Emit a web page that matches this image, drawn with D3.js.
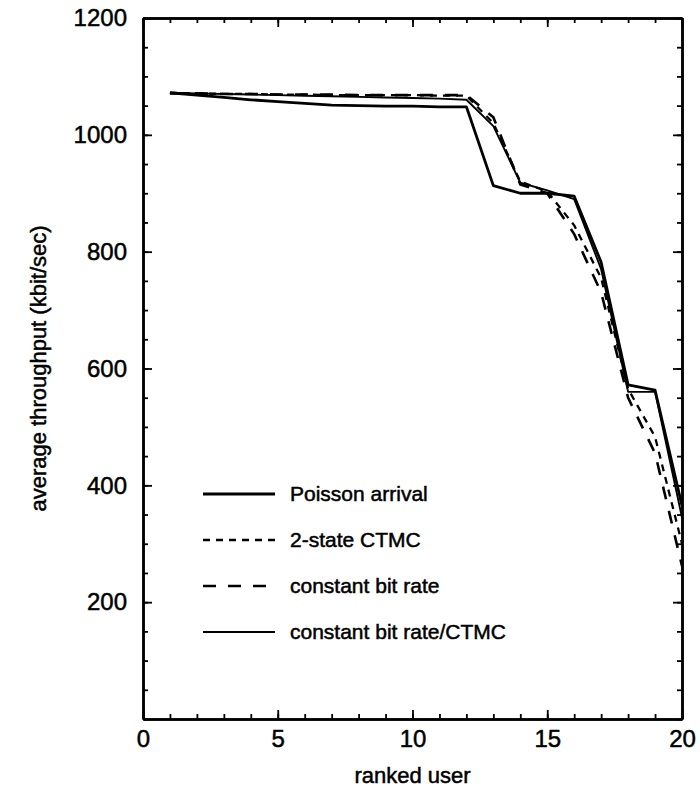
<!DOCTYPE html>
<html>
<head>
<meta charset="utf-8">
<script src="https://cdn.jsdelivr.net/npm/d3@7"></script>
<style>
  body { margin: 0; background: #fff; }
  text { font-family: "Liberation Sans", Arial, sans-serif; fill: #000; stroke: #000; stroke-width: 0.5px; }
</style>
</head>
<body>
<svg id="chart" width="700" height="796"></svg>
<script>
// ranked users 1..20
var users = d3.range(1, 21);

// average throughput (kbit/sec)
var poisson    = [1072, 1068, 1064, 1060, 1057, 1054, 1051, 1050, 1049, 1049, 1048, 1048, 913, 900, 900, 895, 782, 572, 563, 365];
var ctmc2      = [1072, 1071, 1070, 1070, 1069, 1069, 1068, 1068, 1068, 1068, 1067, 1067, 1020, 920, 903, 845, 755, 565, 483, 300];
var cbr        = [1071, 1071, 1070, 1070, 1069, 1069, 1069, 1068, 1068, 1068, 1068, 1068, 1030, 915, 900, 830, 730, 550, 455, 262];
var cbrCtmc    = [1072, 1071, 1070, 1069, 1068, 1067, 1066, 1065, 1064, 1063, 1062, 1060, 1015, 918, 905, 890, 770, 560, 560, 345];

var seriesNames = ["Poisson arrival", "2-state CTMC", "constant bit rate", "constant bit rate/CTMC"];

var xMajor = [0, 5, 10, 15, 20];
var xMinor = d3.range(0, 21);
var yMajor = [200, 400, 600, 800, 1000, 1200];
var yMinor = d3.range(0, 1201, 50);

var svg = d3.select("#chart");

// plot box (don't use "top": it's a window global)
var plotL = 143, plotR = 682, plotT = 18, plotB = 719;

var x = d3.scaleLinear().domain([0, 20]).range([plotL, plotR]);
var y = d3.scaleLinear().domain([0, 1200]).range([plotB, plotT]);

// series styles (line widths / dashes)
var series = [
    { name: seriesNames[0], values: poisson, width: 2.8, dash: null },
    { name: seriesNames[1], values: ctmc2, width: 2.3, dash: "7,6" },
    { name: seriesNames[2], values: cbr, width: 2.6, dash: "13,12" },
    { name: seriesNames[3], values: cbrCtmc, width: 1.9, dash: null }
];

var line = d3.line()
    .x(function(d, i) { return x(users[i]); })
    .y(function(d) { return y(d); });

svg.append("g").selectAll("path")
    .data(series)
    .enter()
    .append("path")
    .attr("d", d => line(d.values))
    .attr("fill", "none")
    .attr("stroke", "#000")
    .attr("stroke-width", d => d.width)
    .attr("stroke-dasharray", d => d.dash)
    .attr("stroke-linejoin", "round");

// axes: ticks point inward on all four sides
function styleAxis(g) {
    g.attr("font-family", null).attr("font-size", null);
    g.selectAll(".domain").attr("stroke", "#000").attr("stroke-width", 2.5);
    g.selectAll(".tick line").attr("stroke", "#000").attr("stroke-width", 1.8);
    g.selectAll(".tick text").style("font-size", "24px").attr("fill", "#000");
}

// bottom
svg.append("g")
    .attr("transform", "translate(0," + plotB + ")")
    .call(d3.axisBottom(x).tickValues(xMinor).tickFormat("").tickSize(-5).tickSizeOuter(0))
    .call(styleAxis);
svg.append("g")
    .attr("transform", "translate(0," + plotB + ")")
    .call(d3.axisBottom(x).tickValues(xMajor).tickFormat(d3.format("d")).tickSize(-9).tickSizeOuter(0).tickPadding(11))
    .call(styleAxis);

// top
svg.append("g")
    .attr("transform", "translate(0," + plotT + ")")
    .call(d3.axisTop(x).tickValues(xMinor).tickFormat("").tickSize(-5).tickSizeOuter(0))
    .call(styleAxis);
svg.append("g")
    .attr("transform", "translate(0," + plotT + ")")
    .call(d3.axisTop(x).tickValues(xMajor).tickFormat("").tickSize(-9).tickSizeOuter(0))
    .call(styleAxis);

// left
svg.append("g")
    .attr("transform", "translate(" + plotL + ",0)")
    .call(d3.axisLeft(y).tickValues(yMinor).tickFormat("").tickSize(-5).tickSizeOuter(0))
    .call(styleAxis);
svg.append("g")
    .attr("transform", "translate(" + plotL + ",0)")
    .call(d3.axisLeft(y).tickValues(yMajor).tickFormat(d3.format("d")).tickSize(-9).tickSizeOuter(0).tickPadding(16))
    .call(styleAxis);

// right
svg.append("g")
    .attr("transform", "translate(" + plotR + ",0)")
    .call(d3.axisRight(y).tickValues(yMinor).tickFormat("").tickSize(-5).tickSizeOuter(0))
    .call(styleAxis);
svg.append("g")
    .attr("transform", "translate(" + plotR + ",0)")
    .call(d3.axisRight(y).tickValues(yMajor).tickFormat("").tickSize(-9).tickSizeOuter(0))
    .call(styleAxis);

// axis titles
svg.append("text")
    .attr("x", (plotL + plotR) / 2)
    .attr("y", 783)
    .attr("text-anchor", "middle")
    .style("font-size", "22px")
    .text("ranked user");

svg.append("text")
    .attr("transform", "translate(46," + (plotT + plotB) / 2 + ") rotate(-90)")
    .attr("text-anchor", "middle")
    .style("font-size", "22px")
    .text("average throughput (kbit/sec)");

// legend
var legend = svg.append("g").selectAll("g")
    .data(series)
    .enter()
    .append("g")
    .attr("transform", (d, i) => "translate(203," + (494 + i * 46) + ")");

legend.append("line")
    .attr("x1", 0)
    .attr("x2", 72)
    .attr("stroke", "#000")
    .attr("stroke-width", d => d.width)
    .attr("stroke-dasharray", d => d.dash);

legend.append("text")
    .attr("x", 87)
    .attr("dy", "0.35em")
    .style("font-size", "21px")
    .text(d => d.name);
</script>
</body>
</html>
